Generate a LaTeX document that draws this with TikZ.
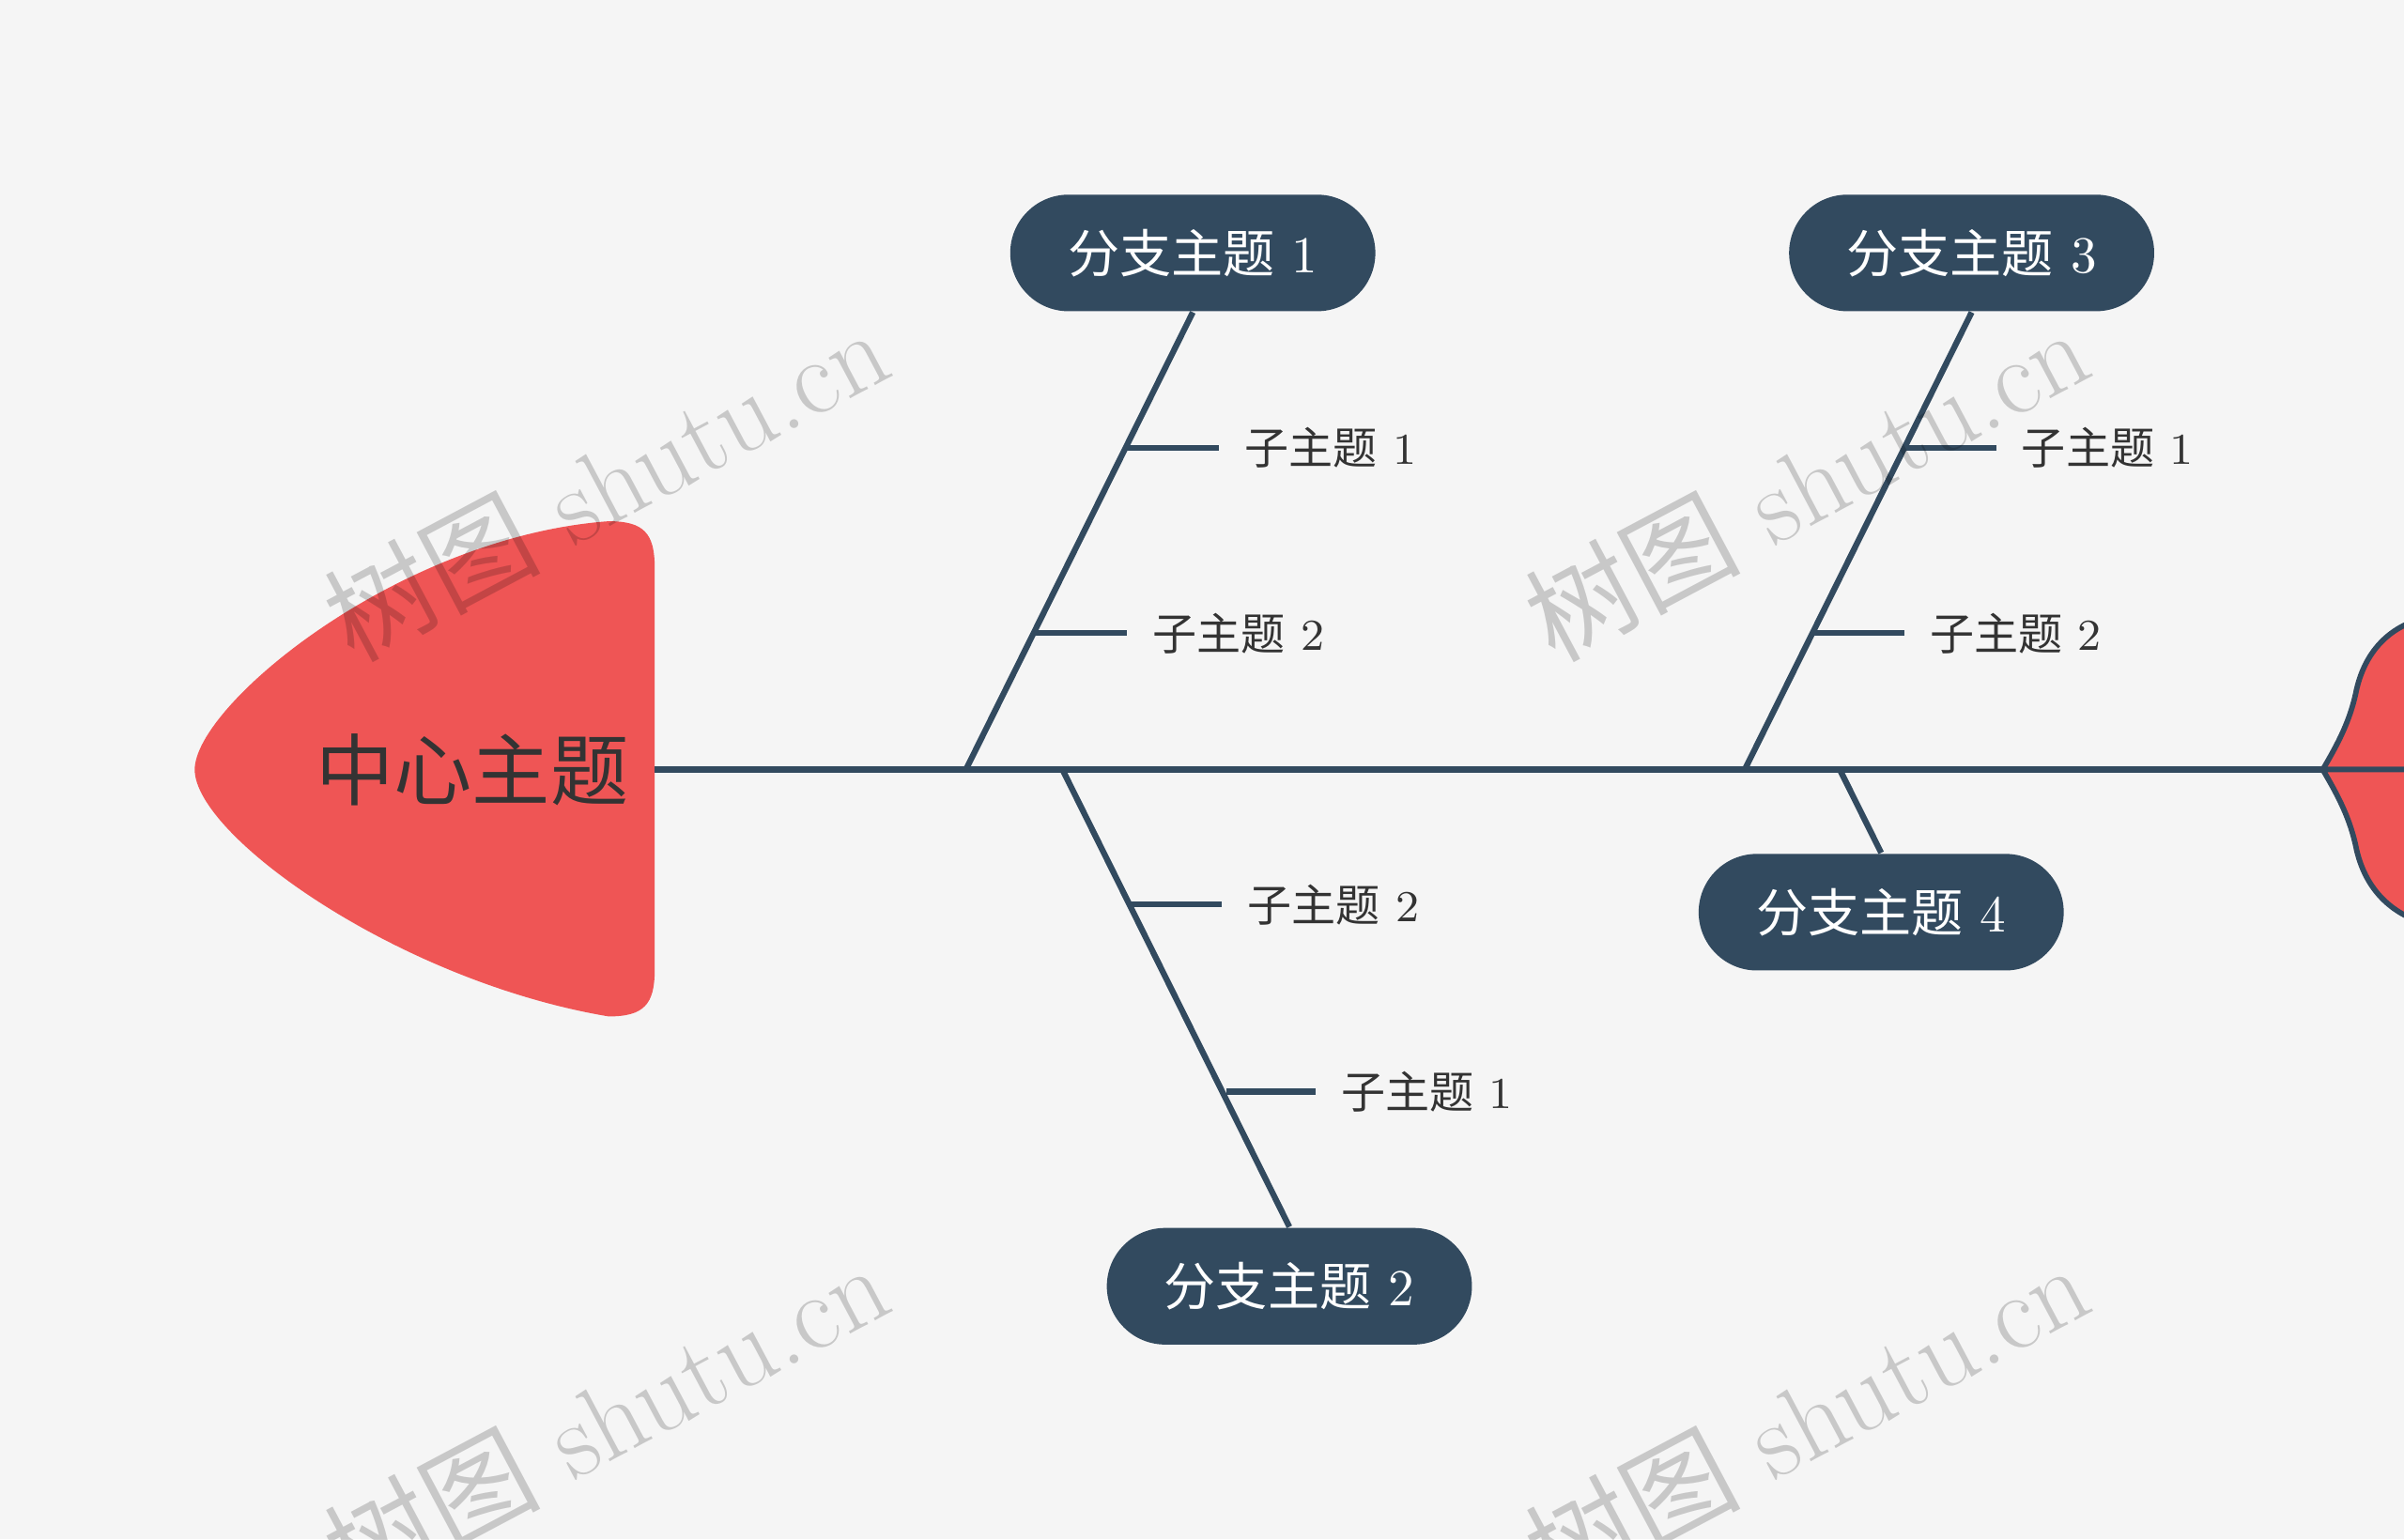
\documentclass[tikz,border=0pt]{standalone}
\usepackage{fontspec}
\newfontfamily\cjk{Noto Sans CJK SC}
\begin{document}
\begin{tikzpicture}[x=0.01cm,y=-0.01cm,
  line/.style={draw=navy,line width=1.1pt},
  branchbox/.style={fill=navy,text=white,rounded corners=0.38cm,minimum width=2.38cm,minimum height=0.76cm,font=\fontsize{9.6pt}{11pt}\selectfont,inner sep=0pt},
  sublab/.style={anchor=west,text=darktext,font=\fontsize{8.2pt}{10pt}\selectfont,inner sep=0pt},
  wm/.style={text=black,text opacity=0.18,rotate=28,font=\fontsize{20pt}{22pt}\selectfont}]
\definecolor{navy}{HTML}{324A5F}
\definecolor{bg}{HTML}{F5F5F5}
\definecolor{headred}{HTML}{EF5555}
\definecolor{darktext}{HTML}{333333}
\fill[bg] (0,0) rectangle (1568,1004);
\useasboundingbox (0,0) rectangle (1568,1004);
% head
\fill[headred] (397,340) .. controls (260,350) and (127,460) .. (127,502)
  .. controls (127,545) and (260,640) .. (397,663)
  .. controls (420,663) and (427,655) .. (427,633) -- (427,370)
  .. controls (427,348) and (420,340) .. (397,340) -- cycle;
\node[text=darktext,font=\fontsize{14.5pt}{16pt}\selectfont\cjk] (head) at (308,502) {中心主题};
% tail
\coordinate (tail) at (1515,502);
\filldraw[fill=headred,draw=navy,line width=1pt] (1515,502) .. controls (1525,485) and (1533,470) .. (1537,450) .. controls (1542,428) and (1555,412) .. (1575,405) -- (1575,502) -- cycle;
\filldraw[fill=headred,draw=navy,line width=1pt] (1515,502) .. controls (1525,519) and (1533,534) .. (1537,554) .. controls (1542,576) and (1555,592) .. (1575,600) -- (1575,502) -- cycle;
% spine
\coordinate (s0) at (427,502);
\draw[line] (s0) -- (tail);
% branch nodes
\node[branchbox] (b1) at (778,165) {{\cjk 分支主题} 1};
\node[branchbox] (b3) at (1286,165) {{\cjk 分支主题} 3};
\node[branchbox] (b2) at (841,839) {{\cjk 分支主题} 2};
\node[branchbox] (b4) at (1227,595) {{\cjk 分支主题} 4};
\coordinate (r1) at (630,502);
\coordinate (r3) at (1138,502);
\coordinate (r2) at (693,502);
\coordinate (r4) at (1200,502);
\draw[line] (b1.south) -- (r1);
\draw[line] (b3.south) -- (r3);
\draw[line] (b2.north) -- (r2);
\draw[line] (b4.north) -- (r4);
% subtopics
\foreach \n/\xa/\xb/\y/\t in {a/735/795/292/1, b/675/735/413/2, c/1243/1302/292/1, d/1182/1242/413/2, e/737/797/590/2, f/800/858/712/1}{
  \coordinate (p\n) at (\xa,\y);
  \node[sublab] (t\n) at (\xb+16,\y) {{\cjk 子主题} \t};
  \draw[line] (p\n) -- (\xb,\y);
}
% watermarks
\foreach \x/\y in {395/315,1178/315,395/925,1178/925}
  \node[wm] (w\x\y) at (\x,\y) {{\cjk 树图} shutu.cn};
\end{tikzpicture}
\end{document}
